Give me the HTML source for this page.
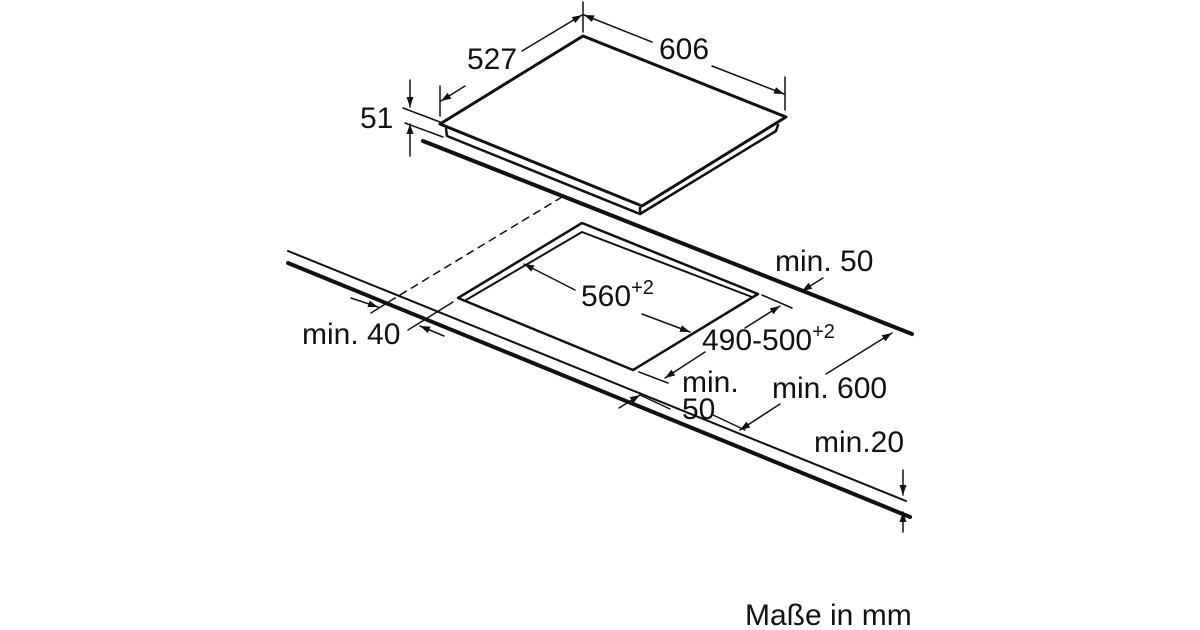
<!DOCTYPE html>
<html><head><meta charset="utf-8"><style>
html,body{margin:0;padding:0;background:#fff;}
svg{display:block;}
text{font-family:"Liberation Sans",Arial,sans-serif;font-size:30px;fill:#111;stroke:none;}
</style></head><body>
<svg width="1200" height="630" viewBox="0 0 1200 630" xmlns="http://www.w3.org/2000/svg">
<defs>
<marker id="a" viewBox="0 0 10 10" refX="10" refY="5" markerWidth="10" markerHeight="10" orient="auto-start-reverse" markerUnits="userSpaceOnUse"><path d="M0,1.5 L10,5 L0,8.5 z" fill="#111" stroke="none"/></marker>
</defs>
<g stroke="#111" fill="none" stroke-linecap="round" stroke-linejoin="round">
<path d="M446,129 L447,136 L640,214 L640,208 M640,214 L776,131 L778,125" stroke-width="2.5"/>
<path d="M440,124 L583,36 L786,117 L642,206 Z" stroke-width="3" fill="#fff"/>
<line x1="423" y1="141" x2="912" y2="334" stroke-width="4"/>
<line x1="562" y1="197" x2="395" y2="298" stroke-width="1.5" stroke-dasharray="7,6"/>
<line x1="395" y1="298" x2="371" y2="313" stroke-width="1.5"/>
<line x1="453" y1="302" x2="408" y2="330" stroke-width="1.5"/>
<line x1="288" y1="251" x2="906" y2="501" stroke-width="2"/>
<line x1="288" y1="263" x2="910" y2="517" stroke-width="4"/>
<path d="M582,223 L758,294 L633,370 L458,298 Z" stroke-width="2.5"/>
<path d="M466,300 L582,232 L752,297" stroke-width="2"/>
<line x1="440" y1="86" x2="440" y2="116" stroke-width="1.5"/>
<line x1="583" y1="2" x2="583" y2="32" stroke-width="1.5"/>
<line x1="785" y1="77" x2="785" y2="110" stroke-width="1.5"/>
<line x1="522" y1="51" x2="582" y2="15" stroke-width="1.5" marker-end="url(#a)"/>
<line x1="465" y1="86" x2="441" y2="101" stroke-width="1.5" marker-end="url(#a)"/>
<line x1="652" y1="42" x2="584" y2="15" stroke-width="1.5" marker-end="url(#a)"/>
<line x1="712" y1="66" x2="784" y2="94" stroke-width="1.5" marker-end="url(#a)"/>
<line x1="403" y1="108" x2="440" y2="122" stroke-width="1.5"/>
<line x1="405" y1="123" x2="443" y2="137" stroke-width="1.5"/>
<line x1="410" y1="80" x2="410" y2="107" stroke-width="1.5" marker-end="url(#a)"/>
<line x1="410" y1="156" x2="410" y2="124" stroke-width="1.5" marker-end="url(#a)"/>
<line x1="575" y1="290" x2="524" y2="264" stroke-width="1.5" marker-end="url(#a)"/>
<line x1="642" y1="314" x2="690" y2="332" stroke-width="1.5" marker-end="url(#a)"/>
<line x1="762" y1="295" x2="792" y2="308" stroke-width="1.5"/>
<line x1="639" y1="372" x2="668" y2="383" stroke-width="1.5"/>
<line x1="745" y1="328" x2="780" y2="306" stroke-width="1.5" marker-end="url(#a)"/>
<line x1="705" y1="352" x2="665" y2="378" stroke-width="1.5" marker-end="url(#a)"/>
<line x1="823" y1="278" x2="802" y2="291" stroke-width="1.5" marker-end="url(#a)"/>
<line x1="826" y1="374" x2="892" y2="333" stroke-width="1.5" marker-end="url(#a)"/>
<line x1="780" y1="404" x2="740" y2="430" stroke-width="1.5" marker-end="url(#a)"/>
<line x1="713" y1="415" x2="745" y2="430" stroke-width="1.5"/>
<line x1="619" y1="408" x2="640" y2="395" stroke-width="1.5" marker-end="url(#a)"/>
<line x1="640" y1="395" x2="670" y2="409" stroke-width="1.5"/>
<line x1="351" y1="298" x2="378" y2="307" stroke-width="1.5" marker-end="url(#a)"/>
<line x1="444" y1="336" x2="420" y2="326" stroke-width="1.5" marker-end="url(#a)"/>
<line x1="903" y1="470" x2="903" y2="495" stroke-width="1.5" marker-end="url(#a)"/>
<line x1="903" y1="532" x2="903" y2="512" stroke-width="1.5" marker-end="url(#a)"/>
</g>
<text x="467" y="69">527</text>
<text x="659" y="59">606</text>
<text x="360" y="128">51</text>
<text x="581" y="306">560<tspan dy="-12" font-size="20">+2</tspan></text>
<text x="702" y="350">490-500<tspan dy="-12" font-size="20">+2</tspan></text>
<text x="775" y="271">min. 50</text>
<text x="772" y="398">min. 600</text>
<text x="682" y="392">min.</text>
<text x="682" y="419">50</text>
<text x="302" y="344">min. 40</text>
<text x="814" y="452">min.20</text>
<text x="745" y="625" style="font-size:30px">Maße in mm</text>
</svg>
</body></html>
